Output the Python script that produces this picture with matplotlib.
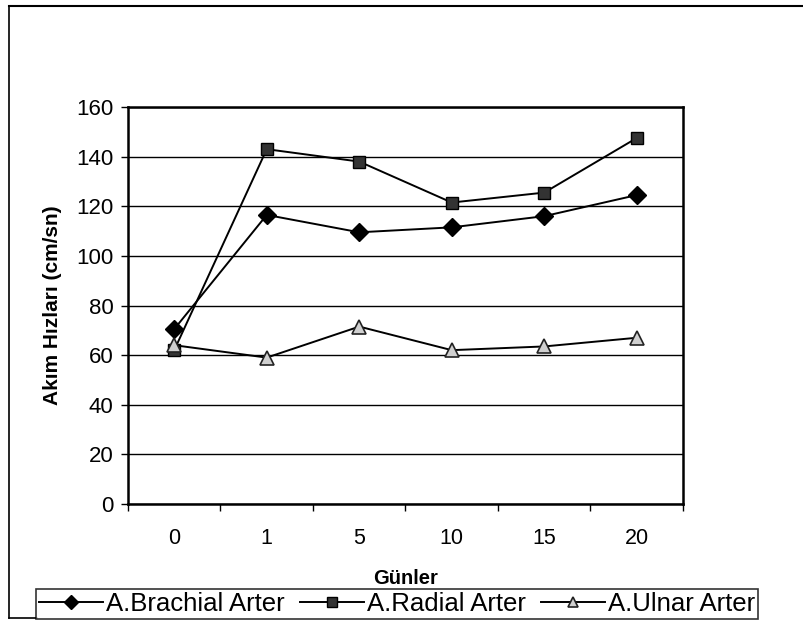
import matplotlib.pyplot as plt
from matplotlib.lines import Line2D

# data
days = ['0', '1', '5', '10', '15', '20']
brachial = [70.5, 116.5, 109.5, 111.5, 116, 124.5]
radial = [62, 143, 138, 121.5, 125.5, 147.5]
ulnar = [64, 59, 71.5, 62, 63.5, 67]
series_names = ['A.Brachial Arter', 'A.Radial Arter', 'A.Ulnar Arter']


def main():
    plt.rcParams['font.family'] = ['Liberation Sans', 'DejaVu Sans']

    fig = plt.figure(figsize=(8.04, 6.23), dpi=100)
    ax = fig.add_axes([128 / 804, 119 / 623, 555 / 804, 397 / 623])

    x = range(len(days))
    ax.plot(x, brachial, color='black', lw=1.4, marker='D', ms=9,
            mfc='black', mec='black', label=series_names[0])
    ax.plot(x, radial, color='black', lw=1.4, marker='s', ms=9,
            mfc='#333333', mec='black', label=series_names[1])
    ax.plot(x, ulnar, color='black', lw=1.4, marker='^', ms=10,
            mfc='#d0d0d0', mec='#222222', mew=1.2, label=series_names[2])

    ax.set_xlim(-0.5, len(days) - 0.5)
    ax.set_ylim(0, 160)
    ax.set_yticks(range(0, 161, 20))
    ax.yaxis.grid(True, color='black', lw=1.0)
    ax.set_axisbelow(True)

    # category labels centred, tick marks at category boundaries
    ax.set_xticks(list(x))
    ax.set_xticklabels(days, fontsize=15.5)
    ax.tick_params(axis='x', length=0, pad=17)
    ax.set_xticks([i - 0.5 for i in range(len(days) + 1)], minor=True)
    ax.tick_params(axis='x', which='minor', length=5, width=1, direction='out')
    ax.tick_params(axis='y', labelsize=16, length=5, width=1, pad=5.5)

    for s in ax.spines.values():
        s.set_linewidth(1.8)

    ax.set_ylabel('Akım Hızları (cm/sn)', fontsize=15, fontweight='bold',
                  labelpad=10)
    ax.set_xlabel('Günler', fontsize=14.5, fontweight='bold', labelpad=15)

    leg = fig.legend(loc='center', bbox_to_anchor=(397 / 804, 1 - 604 / 623),
                     ncol=3, fontsize=18.5, frameon=True, fancybox=False,
                     edgecolor='black', handlelength=2.5, handletextpad=0.1,
                     columnspacing=0.6, borderpad=0.1, borderaxespad=0,
                     markerscale=0.75)
    leg.get_frame().set_linewidth(1.2)

    # outer chart border
    fig.add_artist(Line2D([9 / 804, 9 / 804], [1 - 618 / 623, 1 - 6 / 623],
                          color='black', lw=1.2, transform=fig.transFigure))
    fig.add_artist(Line2D([9 / 804, 1.0], [1 - 6 / 623, 1 - 6 / 623],
                          color='black', lw=1.5, transform=fig.transFigure))
    fig.add_artist(Line2D([9 / 804, 37 / 804], [1 - 618 / 623, 1 - 618 / 623],
                          color='black', lw=1.2, transform=fig.transFigure))

    fig.savefig('out.png', dpi=100, facecolor='white')


if __name__ == "__main__":
    main()
